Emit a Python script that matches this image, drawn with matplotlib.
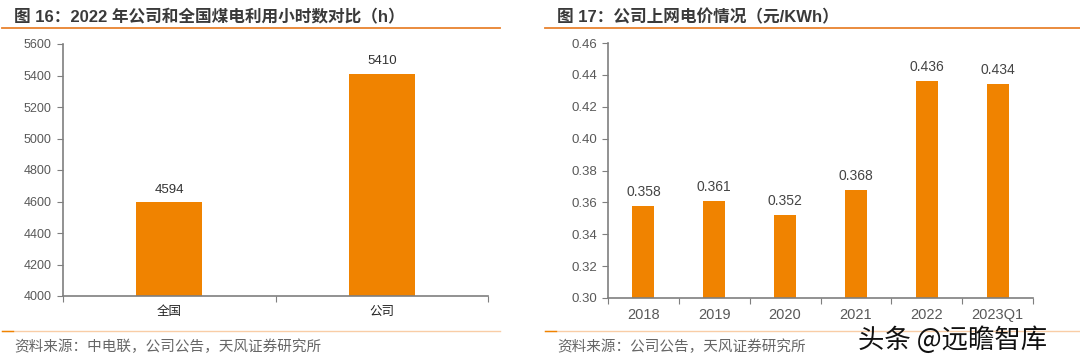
import matplotlib.pyplot as plt
from matplotlib.lines import Line2D

plt.rcParams['font.family'] = ['Liberation Sans', 'Noto Sans CJK SC', 'DejaVu Sans']

# data
left_cats = ['全国', '公司']
left_vals = [4594, 5410]
left_ticks = [4000, 4200, 4400, 4600, 4800, 5000, 5200, 5400, 5600]

right_cats = ['2018', '2019', '2020', '2021', '2022', '2023Q1']
right_vals = [0.358, 0.361, 0.352, 0.368, 0.436, 0.434]
right_ticks = [0.30, 0.32, 0.34, 0.36, 0.38, 0.40, 0.42, 0.44, 0.46]

W, H = 1080, 361
BAR = '#F08300'
GRAY = '#595959'
SPINE = '#7f7f7f'

fig = plt.figure(figsize=(W / 100, H / 100), dpi=100)


def px_axes(x0, x1, ytop, ybot):
    return fig.add_axes([x0 / W, (H - ybot) / H, (x1 - x0) / W, (ybot - ytop) / H])


def hline(x0, x1, y, color, lw):
    fig.add_artist(Line2D([x0 / W, x1 / W], [(H - y) / H] * 2, color=color, lw=lw,
                          transform=fig.transFigure))


def style(ax, cats, ticks, ylim, fmt, ysize, xlabel_font):
    ax.set_ylim(*ylim)
    ax.set_xlim(-0.5, len(cats) - 0.5)
    ax.set_yticks(ticks)
    ax.set_yticklabels([fmt(t) for t in ticks], color=GRAY, fontsize=ysize)
    ax.set_xticks([i - 0.5 for i in range(len(cats) + 1)], minor=False)
    ax.set_xticklabels([])
    ax.set_xticks(range(len(cats)), minor=True)
    ax.set_xticklabels(cats, minor=True, **xlabel_font)
    ax.tick_params(axis='x', which='minor', length=0, pad=7)
    ax.tick_params(axis='x', which='major', length=4, color=SPINE, direction='out')
    ax.tick_params(axis='y', length=4, color=SPINE, direction='out', pad=4)
    for s in ['top', 'right']:
        ax.spines[s].set_visible(False)
    for s in ['left', 'bottom']:
        ax.spines[s].set_color(SPINE)
        ax.spines[s].set_linewidth(1.2)


# left chart
ax1 = px_axes(63, 488, 44, 296)
x1 = range(len(left_cats))
ax1.bar(x1, left_vals, width=0.31, color=BAR, zorder=2)
style(ax1, left_cats, left_ticks, (4000, 5600), lambda t: f'{t:d}', 9,
      dict(fontsize=9, color='#222222'))
for i, v in zip(x1, left_vals):
    ax1.annotate(f'{v}', (i, v), xytext=(0, 5), textcoords='offset points',
                 ha='center', va='bottom', fontsize=9.5, color='#333333')

# right chart
ax2 = px_axes(608, 1033, 43, 298)
x2 = range(len(right_cats))
ax2.bar(x2, right_vals, width=0.31, color=BAR, zorder=2)
style(ax2, right_cats, right_ticks, (0.30, 0.46), lambda t: f'{t:.2f}', 9.5,
      dict(fontsize=10.5, color=GRAY))
for i, v in zip(x2, right_vals):
    ax2.annotate(f'{v:.3f}', (i, v), xytext=(0, 5), textcoords='offset points',
                 ha='center', va='bottom', fontsize=10, color='#444444')

# titles and decoration lines
fig.text(14 / W, 1 - 17 / H, '图 16：2022 年公司和全国煤电利用小时数对比（h）',
         fontsize=12, fontweight='bold', color='#3a3a3a', va='center')
fig.text(557 / W, 1 - 17 / H, '图 17：公司上网电价情况（元/KWh）',
         fontsize=12, fontweight='bold', color='#3a3a3a', va='center')
hline(2, 500, 27.5, '#E8822E', 1.3)
hline(545, 1080, 27.5, '#E8822E', 1.3)
hline(2, 500, 331, '#F9CDA6', 1.0)
hline(545, 1080, 331, '#F9CDA6', 1.0)
hline(2, 13, 331, '#F08300', 1.0)
hline(545, 556, 331, '#F08300', 1.0)

fig.text(14 / W, 1 - 347 / H, '资料来源：中电联，公司公告，天风证券研究所',
         fontsize=10.5, color='#666666', va='center')
fig.text(557 / W, 1 - 347 / H, '资料来源：公司公告，天风证券研究所',
         fontsize=10.5, color='#666666', va='center')
fig.text(858 / W, 1 - 340 / H, '头条 @远瞻智库', fontsize=19, color='#111111',
         va='center', family=['Noto Sans CJK SC', 'DejaVu Sans'])

fig.savefig('out.png', dpi=100, facecolor='white')
